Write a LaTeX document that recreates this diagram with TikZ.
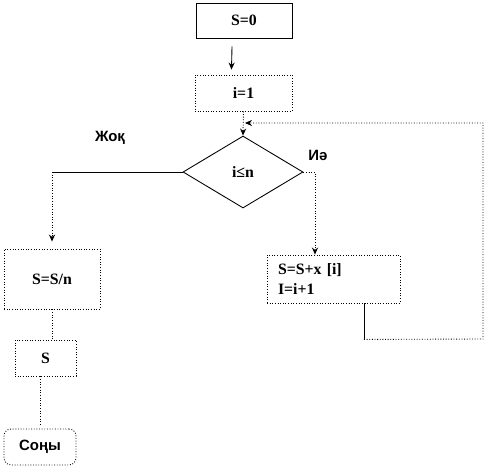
\documentclass[tikz,border=0pt]{standalone}
\usepackage{fontspec}
\setmainfont{Liberation Serif}
\newfontfamily\labelfont{Liberation Sans}
\usetikzlibrary{arrows.meta,shapes.geometric}

\tikzset{
	box/.style={draw, line width=0.5pt, minimum width=#1, inner sep=0pt, font=\bfseries\fontsize{9}{11}\selectfont},
	dotbox/.style={box=#1, densely dotted},
	dotline/.style={line width=0.5pt, densely dotted},
	arr/.style={-{Stealth[length=4pt,width=3.5pt]}},
	tag/.style={font=\labelfont\bfseries\fontsize{8.5}{10}\selectfont}
}

\begin{document}
\begin{tikzpicture}[x=0.02cm, y=-0.02cm, line width=0.5pt]
		\useasboundingbox (0,0) rectangle (485,468);
		
		% Boxes
		\node[box=1.92cm, minimum height=0.7cm] (s0) at (244,20.5) {S=0\hspace{0.5em}};
		\node[dotbox=1.94cm, minimum height=0.72cm] (i1) at (243.5,93) {i=1};
		\node[box=2.4cm, draw, diamond, minimum height=1.44cm, solid] (cond) at (243,172) {i≤n};
		\node[dotbox=2.66cm, minimum height=0.96cm, text width=2.22cm, inner xsep=0.22cm, align=left] (body) at (333.5,279) {S=S+x [i]\\I=i+1};
		\node[dotbox=1.92cm, minimum height=1.2cm] (ssn) at (52,279) {\raisebox{-0.12cm}{S=S/n}\hspace{0.5em}};
		\node[dotbox=1.22cm, minimum height=0.72cm] (s) at (45.5,358) {S\hspace{0.3em}};
		\node[dotbox=1.44cm, minimum height=0.72cm, rounded corners=4pt, font=\labelfont\bfseries\fontsize{8.5}{10}\selectfont] (end) at (40,447) {Соңы\hspace{0.4em}};
		
		% Labels
		\node[tag] (no) at (110,138) {Жоқ};
		\node[tag] (yes) at (318,155) {Иә};
		
		% Connectors
		\draw[arr] ([xshift=-0.24cm,yshift=-0.16cm]s0.south) -- ([xshift=-0.24cm,yshift=0.1cm]i1.north);
		\draw[dotline, arr] (i1.south) -- (cond.north);
		\draw[dotline, arr] (cond.east) -| ([xshift=-0.37cm]body.north);
		\draw (cond.west) -- (52,172) coordinate (turn);
		\draw[dotline, arr, shorten >=0.14cm] (turn) -- (ssn.north);
		\draw[dotline] (ssn.south) -- (ssn.south |- s.north);
		\draw[dotline, shorten >=0.08cm] (s.south -| end.north) -- (end.north);
		
		% Loop back
		\coordinate (back) at (245,123);
		\draw ([xshift=0.61cm]body.south) -- ++(0,36) coordinate (corner);
		\draw[dotline, arr] (corner) -- (483,339) -- (483,123) -- (back);
	\end{tikzpicture}
\end{document}
